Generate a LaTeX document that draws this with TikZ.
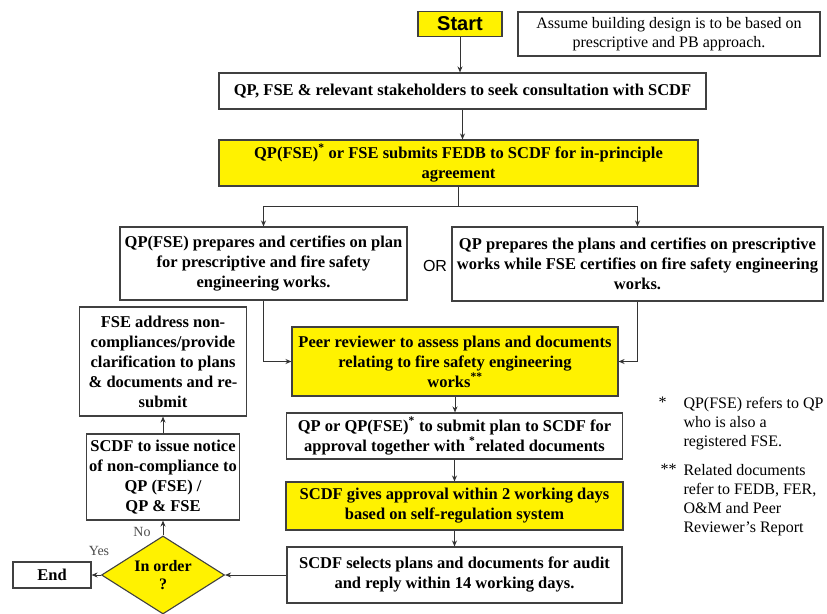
\documentclass[tikz,border=0pt]{standalone}
\usepackage{fontspec}
\setmainfont{Liberation Serif}
\setsansfont{Liberation Sans}
\usepackage{tikz}
\usetikzlibrary{shapes.geometric}
\usetikzlibrary{arrows.meta}

\tikzset{
  box/.style={draw=black!75, line width=1.1pt, fill=white, align=center, inner sep=0pt,
    font=\bfseries\fontsize{16.5}{20}\selectfont},
  ybox/.style={box, fill=yellow},
  note/.style={align=left, inner sep=0pt, anchor=north west, font=\fontsize{16}{19}\selectfont},
  yesno/.style={inner sep=0pt, text=black!70, font=\fontsize{14}{16}\selectfont},
}

\begin{document}
\begin{tikzpicture}[x=1pt, y=-1pt, >={Stealth[length=6pt,width=5pt]}, line width=1pt]
  \useasboundingbox (0,0) rectangle (827,613);

  \node[ybox, minimum width=84, minimum height=25, font=\sffamily\bfseries\fontsize{20}{22}\selectfont] (start) at (460,24) {Start};
  \node[box, minimum width=302, minimum height=44, font=\fontsize{16}{18.5}\selectfont] (assume) at (669,34) {Assume building design is to be based on\\prescriptive and PB approach.};
  \node[box, minimum width=487, minimum height=36] (consult) at (462.5,91) {QP, FSE \& relevant stakeholders to seek consultation with SCDF};
  \node[ybox, minimum width=479, minimum height=46] (fedb) at (458.5,163) {QP(FSE)\textsuperscript{*} or FSE submits FEDB to SCDF for in-principle\\agreement};
  \node[box, minimum width=287, minimum height=73] (qpfse) at (263.5,263.5) {QP(FSE) prepares and certifies on plan\\for prescriptive and fire safety\\engineering works.};
  \node[box, minimum width=371, minimum height=74] (qpandfse) at (637.5,264) {QP prepares the plans and certifies on prescriptive\\works while FSE certifies on fire safety engineering\\works.};
  \node[inner sep=0pt, font=\sffamily\fontsize{16}{18}\selectfont] (or) at (435,266) {OR};
  \node[ybox, minimum width=326, minimum height=69] (peer) at (455,361.5) {Peer reviewer to assess plans and documents\\relating to fire safety engineering\\works\textsuperscript{**}};
  \node[box, minimum width=336, minimum height=46] (qpsub) at (454.5,436) {QP or QP(FSE)\textsuperscript{*} to submit plan to SCDF for\\approval together with \textsuperscript{*}related documents};
  \node[ybox, minimum width=337, minimum height=48] (approve) at (454.5,506) {SCDF gives approval within 2 working days\\based on self-regulation system};
  \node[box, minimum width=335, minimum height=56] (audit) at (454.5,575) {SCDF selects plans and documents for audit\\and reply within 14 working days.};

  % loop back
  \node[ybox, diamond, aspect=1.6, minimum width=123, minimum height=78, font=\bfseries\fontsize{16}{18}\selectfont] (order) at (163,575) {In order\\?};
  \node[box, minimum width=153, minimum height=86] (notice) at (163,477) {SCDF to issue notice\\of non-compliance to\\QP (FSE) /\\QP \& FSE};
  \node[box, minimum width=167, minimum height=109] (fseaddr) at (163,361.5) {FSE address non-\\compliances/provide\\clarification to plans\\\& documents and re-\\submit};
  \node[box, minimum width=78, minimum height=26] (stop) at (52,575) {End};
  \node[yesno] (no) at (142,532) {No};
  \node[yesno] (yes) at (99,551) {Yes};

  % notes
  \node[note] (star) at (658,397) {*};
  \node[note] (fnone) at (683,397) {QP(FSE) refers to QP\\who is also a\\registered FSE.};
  \node[note] (twostar) at (660,464) {**};
  \node[note] (fntwo) at (683,464) {Related documents\\refer to FEDB, FER,\\O\&M and Peer\\Reviewer's Report};

  \foreach \a/\b in {start/consult, consult/fedb, peer/qpsub, qpsub/approve, approve/audit}{
    \draw[->,black!80] (\a.south) -- (\a.south |- \b.north);
  }
  \draw[->,black!80] (fedb.south) -- ++(0,20) -| (qpfse.north);
  \draw[->,black!80] (fedb.south) -- ++(0,20) -| (qpandfse.north);
  \draw[->,black!80] (qpfse.south) |- (peer.west);
  \draw[->,black!80] (qpandfse.south) |- (peer.east);
  \draw[->,black!80] (audit.west) -- (order.east);
  \draw[->,black!80] (order.north) -- (notice.south);
  \draw[->,black!80] (notice.north) -- (fseaddr.south);
  \draw[->,black!80] (order.west) -- (stop.east);
\end{tikzpicture}
\end{document}
